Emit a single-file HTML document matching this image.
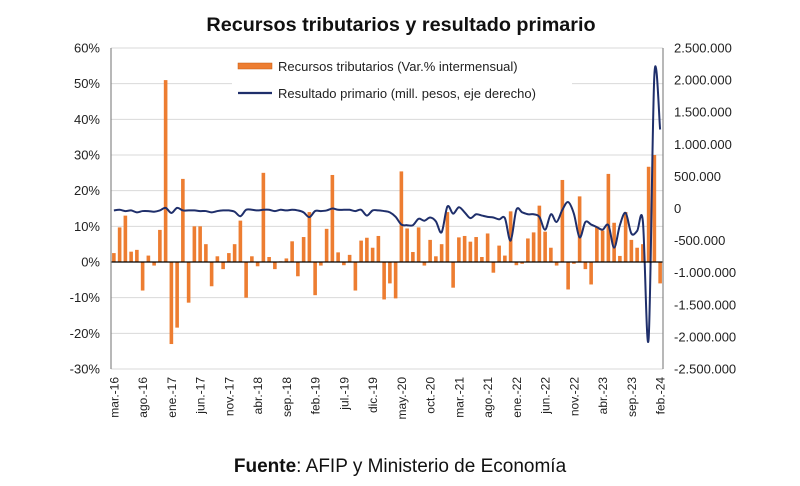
<!DOCTYPE html>
<html><head><meta charset="utf-8"><style>
body{margin:0;background:#fff;width:800px;height:481px;overflow:hidden;font-family:"Liberation Sans",Arial,sans-serif}
svg text{font-family:"Liberation Sans",Arial,sans-serif}
</style></head><body>
<svg id="chart" width="800" height="481" xmlns="http://www.w3.org/2000/svg">
<text x="401" y="31" text-anchor="middle" font-size="19.8" font-weight="bold" fill="#111">Recursos tributarios y resultado primario</text>
<g id="grid"></g><g id="bars"></g><g id="lineg"></g><g id="axes"></g>
<g>
<rect x="232" y="54" width="340" height="50" fill="#fff"/>
<rect x="238" y="63" width="34" height="6" fill="#ED7D31" stroke="#c55a11" stroke-width="0.5"/>
<text x="278" y="71" font-size="13" fill="#222">Recursos tributarios (Var.% intermensual)</text>
<line x1="238" y1="93" x2="272" y2="93" stroke="#1F2F6B" stroke-width="2.2"/>
<text x="278" y="98" font-size="13" fill="#222">Resultado primario (mill. pesos, eje derecho)</text>
</g>
<text x="400" y="472" text-anchor="middle" font-size="19" fill="#111"><tspan font-weight="bold">Fuente</tspan>: AFIP y Ministerio de Economía</text>
</svg>
<script>
const barValues=[2.5,9.7,13,2.9,3.4,-8,1.8,-1,9,51,-23,-18.4,23.3,-11.4,10,10,5,-6.8,1.6,-2,2.5,5,11.6,-10,1.6,-1.2,25,1.4,-2,0.2,1,5.8,
-4,7,14,-9.3,-1,9.3,24.4,2.7,-0.9,2,-8,6,6.8,4,7.3,-10.5,-6,-10.2,25.4,9.4,2.8,9.7,-1,6.2,1.6,5,14,-7.2,6.9,7.3,5.7,
7,1.4,8,-3,4.6,1.8,14.2,-0.9,-0.5,6.6,8.3,15.8,8.5,4,-1,23,-7.7,-0.5,18.4,-2,-6.3,9.9,8.8,24.7,11,1.7,14,6.2,4,5,26.7,30,-6];
const lineValues=[-30,-20,-40,-30,-60,-40,-40,-50,-30,10,-70,10,-30,-30,-30,-40,-40,-60,-40,-30,
-30,-50,-120,-20,-20,-30,-20,-20,-40,-20,-30,-20,
-30,-60,-135,-40,-40,-30,0,-20,-20,-20,-40,-20,-110,-30,-30,-40,-60,-130,
-250,-260,-260,-160,-190,-140,-200,-370,30,-80,20,-60,-150,
-90,-110,-130,-140,-170,-150,-500,-20,-60,-90,-90,-130,-330,-90,-210,-20,100,-80,-450,-210,-250,-290,-330,-260,-610,-260,-70,-390,-350,-200,-2030,2080,1230];
const leftTicks=[60,50,40,30,20,10,0,-10,-20,-30];
const rightTicks=["2.500.000","2.000.000","1.500.000","1.000.000","500.000","0","-500.000","-1.000.000","-1.500.000","-2.000.000","-2.500.000"];
const rightTickVals=[2500,2000,1500,1000,500,0,-500,-1000,-1500,-2000,-2500];
const xLabels=["mar.-16","ago.-16","ene.-17","jun.-17","nov.-17","abr.-18","sep.-18","feb.-19","jul.-19","dic.-19","may.-20","oct.-20","mar.-21","ago.-21","ene.-22","jun.-22","nov.-22","abr.-23","sep.-23","feb.-24"];
const xLabelIdx=[0,5,10,15,20,25,30,35,40,45,50,55,60,65,70,75,80,85,90,95];
const NS="http://www.w3.org/2000/svg";
const X0=111,X1=663,Y0=48,Y1=369;
const n=barValues.length, step=(X1-X0)/n;
const xc=i=>X0+step*(i+0.5);
const yL=v=>Y0+(60-v)/90*(Y1-Y0);
const yR=v=>Y0+(2500-v)/5000*(Y1-Y0);
function mk(tag,attrs,parent){const e=document.createElementNS(NS,tag);for(const k in attrs)e.setAttribute(k,attrs[k]);parent.appendChild(e);return e;}
const grid=document.getElementById('grid'),axes=document.getElementById('axes'),bars=document.getElementById('bars'),lg=document.getElementById('lineg');
leftTicks.forEach(t=>{
 const g=mk('line',{x1:X0,x2:X1,y1:yL(t),y2:yL(t),stroke:'#d9d9d9','stroke-width':1},grid);
 
 
 const tx=mk('text',{x:100,y:yL(t)+4.5,'text-anchor':'end','font-size':13,fill:'#222'},axes);
 tx.textContent=t+'%';
 
 
});
rightTicks.forEach((t,i)=>{
 const tx=mk('text',{x:674,y:yR(rightTickVals[i])+4.5,'font-size':13,fill:'#222'},axes);
 tx.textContent=t;
 
 
});
barValues.forEach((v,i)=>{
 const y=Math.min(yL(v),yL(0)),h=Math.abs(yL(v)-yL(0));
 const r=mk('rect',{x:xc(i)-1.8,y:y,width:3.6,height:h,fill:'#ED7D31'},bars);
 
 
});
const zl=mk('line',{x1:X0,x2:X1,y1:yL(0),y2:yL(0),stroke:'#000','stroke-width':1.3},axes);


const la=mk('line',{x1:X0,x2:X0,y1:Y0,y2:Y1,stroke:'#888','stroke-width':1.2},axes);


const ra=mk('line',{x1:X1,x2:X1,y1:Y0,y2:Y1,stroke:'#888','stroke-width':1.2},axes);


const pts=lineValues.map((v,i)=>[xc(i),yR(v)]);
let d='M'+pts[0][0]+','+pts[0][1];
for(let i=0;i<pts.length-1;i++){
 const p0=pts[Math.max(i-1,0)],p1=pts[i],p2=pts[i+1],p3=pts[Math.min(i+2,pts.length-1)];
 const c1=[p1[0]+(p2[0]-p0[0])/6,p1[1]+(p2[1]-p0[1])/6],c2=[p2[0]-(p3[0]-p1[0])/6,p2[1]-(p3[1]-p1[1])/6];
 d+=' C'+c1[0]+','+c1[1]+' '+c2[0]+','+c2[1]+' '+p2[0]+','+p2[1];
}
const pl=mk('path',{d:d,fill:'none',stroke:'#1F2F6B','stroke-width':2},lg);


xLabels.forEach((t,k)=>{
 const x=xc(xLabelIdx[k])+4.5;
 const tx=mk('text',{x:x,y:377,'text-anchor':'end','font-size':12,fill:'#222',transform:'rotate(-90 '+x+' 377)'},axes);
 tx.textContent=t;
 
 
});
</script>
</body></html>
